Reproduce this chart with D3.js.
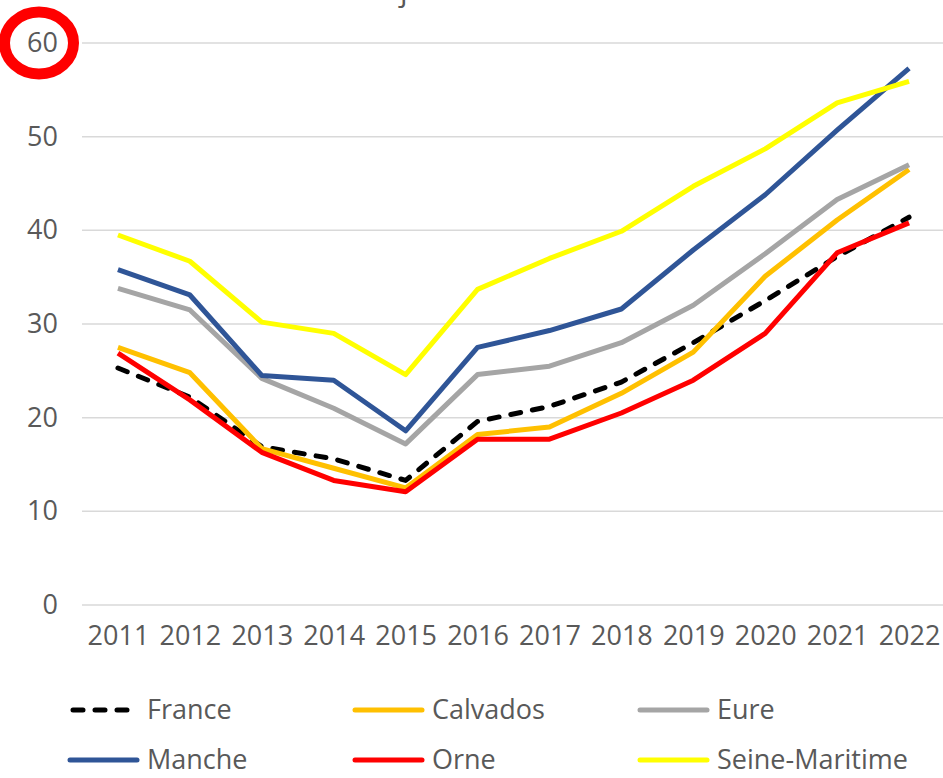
<!DOCTYPE html>
<html>
<head>
<meta charset="utf-8">
<script src="https://cdn.jsdelivr.net/npm/d3@7"></script>
<style>
  html, body { margin: 0; padding: 0; background: #fff; }
  svg { display: block; font-family: "Open Sans", sans-serif; }
</style>
</head>
<body>
<div id="chart"></div>
<script>
// ===================== DATA =====================
const years = ["2011", "2012", "2013", "2014", "2015", "2016", "2017", "2018", "2019", "2020", "2021", "2022"];
const yTicks = [0, 10, 20, 30, 40, 50, 60];

const france        = [25.3, 22.2, 16.9, 15.6, 13.3, 19.6, 21.2, 23.8, 28.0, 32.5, 37.2, 41.4];
const calvados      = [27.5, 24.8, 16.7, 14.6, 12.5, 18.2, 19.0, 22.6, 27.0, 35.1, 41.1, 46.5];
const eure          = [33.8, 31.5, 24.2, 21.0, 17.2, 24.6, 25.5, 28.0, 32.0, 37.5, 43.3, 47.0];
const manche        = [35.8, 33.1, 24.5, 24.0, 18.6, 27.5, 29.3, 31.6, 37.9, 43.8, 50.7, 57.3];
const orne          = [26.9, 21.9, 16.3, 13.3, 12.1, 17.7, 17.7, 20.5, 24.0, 29.0, 37.6, 40.8];
const seineMaritime = [39.5, 36.7, 30.2, 29.0, 24.6, 33.7, 37.0, 39.9, 44.7, 48.7, 53.6, 55.9];

const series = [
  { name: "France", values: france, color: "#000000", dash: true },
  { name: "Calvados", values: calvados, color: "#FFC000" },
  { name: "Eure", values: eure, color: "#A5A5A5" },
  { name: "Manche", values: manche, color: "#2F5597" },
  { name: "Orne", values: orne, color: "#FF0000" },
  { name: "Seine-Maritime", values: seineMaritime, color: "#FFFF00" }
];

// ===================== CHART =====================
const width = 943, height = 778;
const textColor = "#595959";
const tickSize = 27;
const legendSize = 27;

const svg = d3.select("#chart").append("svg")
  .attr("width", width)
  .attr("height", height);

const x = d3.scalePoint().domain(years).range([82, 945]).padding(0.5);
const y = d3.scaleLinear().domain([0, 60]).range([605, 43]);

// cut-off title fragment at the top
svg.append("text")
  .attr("x", 400).attr("y", 1)
  .attr("font-size", 30)
  .attr("fill", textColor)
  .text("j");

// gridlines
svg.append("g")
  .selectAll("line")
  .data(yTicks)
  .join("line")
  .attr("x1", 82).attr("x2", width)
  .attr("y1", d => y(d)).attr("y2", d => y(d))
  .attr("stroke", "#D9D9D9")
  .attr("stroke-width", 1.5);

// y axis labels
const yAxis = svg.append("g")
  .attr("transform", "translate(82,0)")
  .call(d3.axisLeft(y).tickValues(yTicks).tickSize(0).tickPadding(24));
yAxis.select(".domain").remove();
yAxis.selectAll("text")
  .attr("font-size", tickSize)
  .attr("font-family", "Open Sans, sans-serif")
  .attr("fill", textColor);

// x axis labels
const xAxis = svg.append("g")
  .attr("transform", "translate(0,605)")
  .call(d3.axisBottom(x).tickSize(0).tickPadding(21));
xAxis.select(".domain").remove();
xAxis.selectAll("text")
  .attr("font-size", tickSize)
  .attr("font-family", "Open Sans, sans-serif")
  .attr("fill", textColor);

// lines
const line = d3.line()
  .x((d, i) => x(years[i]))
  .y(d => y(d));

svg.append("g")
  .selectAll("path")
  .data(series)
  .join("path")
  .attr("d", d => line(d.values))
  .attr("fill", "none")
  .attr("stroke", d => d.color)
  .attr("stroke-width", 5)
  .attr("stroke-linejoin", "round")
  .attr("stroke-linecap", d => d.dash ? "round" : "butt")
  .attr("stroke-dasharray", d => d.dash ? "10,12" : null);

// red ring around the top tick label
svg.append("ellipse")
  .attr("cx", 39).attr("cy", y(60))
  .attr("rx", 34.5).attr("ry", 31)
  .attr("fill", "none")
  .attr("stroke", "#FF0000")
  .attr("stroke-width", 11);

// legend
const legendCols = [70, 355, 640];
const legendRows = [710, 760];
const legend = svg.append("g")
  .selectAll("g")
  .data(series)
  .join("g")
  .attr("transform", (d, i) => `translate(${legendCols[i % 3]},${legendRows[Math.floor(i / 3)]})`);

legend.append("line")
  .attr("x1", d => d.dash ? 3 : 0).attr("x2", d => d.dash ? 64 : 67)
  .attr("y1", 0).attr("y2", 0)
  .attr("stroke", d => d.color)
  .attr("stroke-width", 5)
  .attr("stroke-linecap", "round")
  .attr("stroke-dasharray", d => d.dash ? "10,12" : null);

legend.append("text")
  .attr("x", 77).attr("y", 0)
  .attr("dy", "0.35em")
  .attr("font-size", legendSize)
  .attr("fill", textColor)
  .text(d => d.name);
</script>
</body>
</html>
